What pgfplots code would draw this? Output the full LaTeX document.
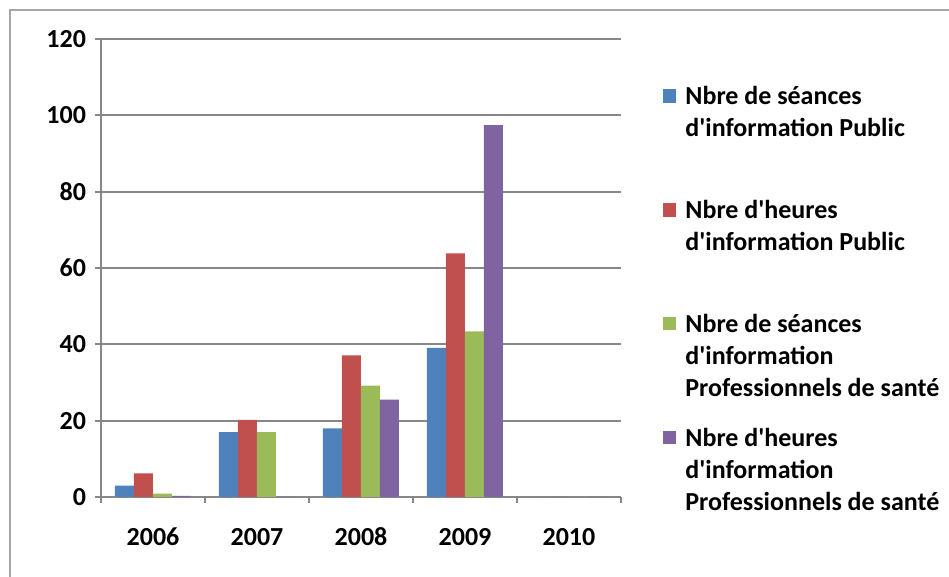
\documentclass[border=0pt]{standalone}
\usepackage{fontspec}
\setmainfont{Carlito}
\usepackage{pgfplots}
\pgfplotsset{compat=1.18}
\definecolor{cBlue}{HTML}{4F81BD}
\definecolor{cRed}{HTML}{C0504D}
\definecolor{cGreen}{HTML}{9BBB59}
\definecolor{cPurple}{HTML}{8064A2}
\definecolor{gridgray}{HTML}{878787}
\definecolor{framegray}{HTML}{A6A6A6}
\begin{document}
\begin{tikzpicture}[font=\fontsize{13pt}{16pt}\selectfont\bfseries]
\path[use as bounding box] (0,0) rectangle (474.5pt,288.5pt);
\draw[color=framegray, line width=0.6pt] (5pt,0) -- (5pt,283.5pt) -- (474.5pt,283.5pt);
\begin{axis}[
  at={(50.5pt,40pt)}, anchor=south west,
  scale only axis, width=260pt, height=229pt,
  ybar=0pt, bar width=9.5pt,
  xmin=-0.5, xmax=4.5, ymin=0, ymax=120,
  xtick={-0.5,0.5,1.5,2.5,3.5,4.5},
  x tick label as interval,
  xticklabels={2006,2007,2008,2009,2010},
  ytick={0,20,40,60,80,100,120},
  axis x line*=bottom, axis y line*=left,
  axis line style={-, color=gridgray, line width=1pt},
  ymajorgrids, grid style={color=gridgray, line width=1pt},
  tick align=outside, major tick length=3pt,
  tick style={color=gridgray, line width=1pt},
  /pgf/number format/assume math mode=true,
  ticklabel style={font=\fontsize{13pt}{16pt}\selectfont\bfseries},
  yticklabel style={xshift=-1pt},
  xticklabel style={yshift=-9.5pt, text height=8.4pt, text depth=0pt},
  legend cell align=left,
  legend style={draw=none, fill=none, inner sep=0pt, outer sep=0pt,
    row sep=44.2pt, column sep=4.5pt,
    at={(1.0808,0.9048)}, anchor=north west,
    cells={anchor=base west},
    nodes={inner sep=0pt, outer sep=0pt}},
  every axis plot post/.append style={
    legend image code/.code={\fill[##1] (0pt,1.1pt) rectangle (6.7pt,7.8pt);}},
]
\addplot[fill=cBlue, draw=none] coordinates {(0,3) (1,17) (2,18) (3,39.1) (4,0)};
\addlegendentry{\parbox[t]{132pt}{\strut Nbre de séances\\d\textquotesingle information Public}}
\addplot[fill=cRed, draw=none] coordinates {(0,6.2) (1,20.2) (2,37.1) (3,63.8) (4,0)};
\addlegendentry{\parbox[t]{132pt}{\strut Nbre d\textquotesingle heures\\d\textquotesingle information Public}}
\addplot[fill=cGreen, draw=none] coordinates {(0,0.9) (1,17) (2,29.2) (3,43.4) (4,0)};
\addlegendentry{\parbox[t]{132pt}{\strut Nbre de séances\\d\textquotesingle information\\Professionnels de santé}}
\addplot[fill=cPurple, draw=none] coordinates {(0,0.3) (1,0) (2,25.5) (3,97.4) (4,0)};
\addlegendentry{\parbox[t]{132pt}{\strut Nbre d\textquotesingle heures\\d\textquotesingle information\\Professionnels de santé}}
\end{axis}
\end{tikzpicture}
\end{document}
